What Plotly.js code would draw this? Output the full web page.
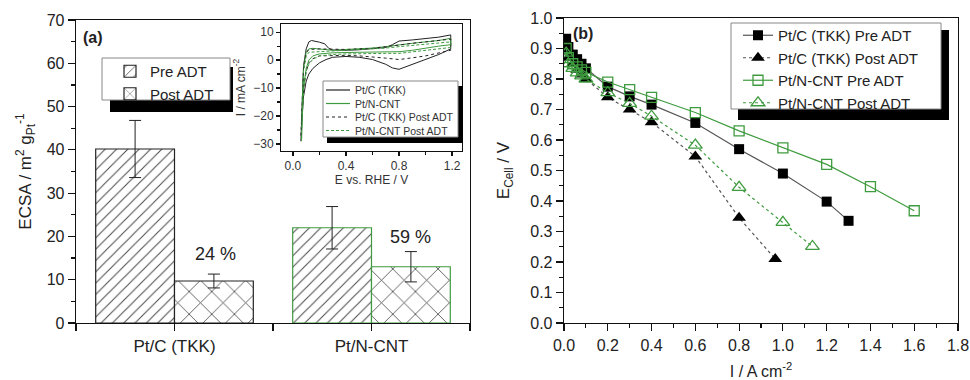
<!DOCTYPE html>
<html><head><meta charset="utf-8">
<script src="https://cdn.plot.ly/plotly-3.0.1.min.js"></script>
<style>html,body{margin:0;padding:0;background:#fff}#chart{width:970px;height:380px}</style>
</head><body><div id="chart"></div>
<script>
// ---------- Panel (a): ECSA bars ----------
const categories = ['Pt/C (TKK)', 'Pt/N-CNT'];
const catPos = [0, 1];
const ecsaPre = [40.2, 22.0];
const ecsaPreErr = [6.6, 4.9];
const ecsaPost = [9.7, 13.0];
const ecsaPostErr = [1.6, 3.5];
const retentionText = ['24 %', '59 %'];
const retentionX = [0.21, 1.2];
const retentionY = [16.0, 19.9];

// ---------- Inset: cyclic voltammograms ----------
const cvNames = ['Pt/C (TKK)', 'Pt/N-CNT', 'Pt/C (TKK) Post ADT', 'Pt/N-CNT Post ADT'];
const cvPtcE = [0.06, 0.065, 0.07, 0.08, 0.1, 0.12, 0.14, 0.17, 0.2, 0.24, 0.27, 0.3, 0.4, 0.5, 0.6, 0.7, 0.75, 0.8, 0.9, 1.0, 1.1, 1.19, 1.19, 1.1, 1.0, 0.9, 0.8, 0.75, 0.7, 0.6, 0.5, 0.4, 0.3, 0.25, 0.2, 0.15, 0.12, 0.1, 0.08, 0.07, 0.065];
const cvPtcI = [-29, -20, -10, -2, 4, 6.5, 7.0, 6.8, 6.4, 5.8, 4.2, 3.6, 3.5, 3.7, 4.0, 4.5, 5.5, 6.8, 7.2, 7.6, 8.2, 9.0, 4.0, 2.0, 0.2, -1.5, -3.3, -2.8, -1.5, 0.2, 1.0, 1.3, 1.0, 0.2, -1.0, -3.0, -5.0, -7.5, -13, -20, -25];
const cvPncE = [0.065, 0.07, 0.08, 0.1, 0.12, 0.15, 0.2, 0.3, 0.4, 0.5, 0.6, 0.7, 0.8, 0.9, 1.0, 1.1, 1.19, 1.19, 1.1, 1.0, 0.9, 0.8, 0.7, 0.6, 0.5, 0.4, 0.3, 0.2, 0.15, 0.12, 0.1, 0.08, 0.07];
const cvPncI = [-29, -15, -3, 3, 4.0, 4.2, 4.0, 3.5, 3.8, 4.0, 4.3, 4.8, 5.5, 6.0, 6.5, 7.0, 7.8, 5.5, 5.0, 4.2, 3.5, 3.0, 3.0, 3.0, 2.8, 2.7, 2.6, 2.2, 1.5, 0, -3, -10, -20];
const cvPtcPostE = [0.06, 0.07, 0.08, 0.1, 0.12, 0.2, 0.3, 0.4, 0.5, 0.6, 0.7, 0.8, 0.9, 1.0, 1.1, 1.19, 1.19, 1.1, 1.0, 0.9, 0.8, 0.7, 0.6, 0.5, 0.4, 0.3, 0.2, 0.15, 0.12, 0.1, 0.08, 0.07];
const cvPtcPostI = [-27, -12, -3, 2.5, 3.8, 4.0, 3.8, 3.8, 4.0, 4.2, 4.8, 5.5, 6.0, 6.5, 7.0, 7.5, 3.5, 2.5, 1.5, 0.8, 0.2, 0.7, 1.2, 1.5, 1.7, 1.7, 1.5, 0.5, -1, -4, -10, -18];
const cvPncPostE = [0.065, 0.07, 0.08, 0.1, 0.12, 0.2, 0.3, 0.4, 0.5, 0.6, 0.7, 0.8, 0.9, 1.0, 1.1, 1.19, 1.19, 1.1, 1.0, 0.9, 0.8, 0.7, 0.6, 0.5, 0.4, 0.3, 0.2, 0.15, 0.12, 0.1, 0.08, 0.07];
const cvPncPostI = [-28, -14, -4, 1.5, 2.8, 3.0, 3.2, 3.4, 3.6, 3.9, 4.3, 4.8, 5.2, 5.6, 6.0, 6.5, 4.5, 4.0, 3.4, 2.8, 2.4, 2.4, 2.4, 2.3, 2.2, 2.0, 1.5, 0.3, -1.5, -4, -10, -20];

// ---------- Panel (b): polarization curves ----------
const ptcPreI = [0.01, 0.02, 0.04, 0.06, 0.08, 0.1, 0.2, 0.3, 0.4, 0.6, 0.8, 1.0, 1.2, 1.3];
const ptcPreE = [0.932, 0.905, 0.88, 0.865, 0.85, 0.835, 0.775, 0.743, 0.716, 0.656, 0.57, 0.49, 0.398, 0.335];
const ptcPostI = [0.01, 0.02, 0.04, 0.06, 0.08, 0.1, 0.2, 0.3, 0.4, 0.6, 0.8, 0.965];
const ptcPostE = [0.89, 0.87, 0.85, 0.83, 0.815, 0.80, 0.74, 0.70, 0.658, 0.546, 0.345, 0.21];
const pncPreI = [0.01, 0.02, 0.04, 0.06, 0.08, 0.1, 0.2, 0.3, 0.4, 0.6, 0.8, 1.0, 1.2, 1.4, 1.6];
const pncPreE = [0.90, 0.87, 0.85, 0.84, 0.83, 0.822, 0.79, 0.765, 0.74, 0.69, 0.63, 0.574, 0.52, 0.447, 0.368];
const pncPostI = [0.01, 0.02, 0.04, 0.06, 0.08, 0.1, 0.2, 0.3, 0.4, 0.6, 0.8, 1.0, 1.135];
const pncPostE = [0.885, 0.85, 0.835, 0.82, 0.81, 0.80, 0.755, 0.72, 0.678, 0.583, 0.445, 0.33, 0.251];

// ---------- styling ----------
const FONT = 'Liberation Sans, Arial, sans-serif';
const GREEN = '#3f9b3f';
const W = 970, H = 380, ML = 76, MR = 12, MT = 18, MB = 57;
const PW = W - ML - MR, PH = H - MT - MB;
const px = v => (v - ML) / PW;
const py = v => 1 - (v - MT) / PH;
const cvColors = ['#222', GREEN, '#222', GREEN];
const cvDash = ['solid', 'solid', 'dot', '3px,2px'];

const traces = [
  {type: 'bar', name: 'Pre ADT', x: catPos, y: ecsaPre, xaxis: 'x', yaxis: 'y', legend: 'legend',
   marker: {color: 'white', line: {color: ['#222', GREEN], width: 1.2},
            pattern: {shape: '/', size: 8, solidity: 0.12, fgcolor: '#444', bgcolor: 'white'}},
   error_y: {type: 'data', array: ecsaPreErr, color: '#222', thickness: 1, width: 6}},
  {type: 'bar', name: 'Post ADT', x: catPos, y: ecsaPost, xaxis: 'x', yaxis: 'y', legend: 'legend',
   marker: {color: 'white', line: {color: ['#222', GREEN], width: 1.2},
            pattern: {shape: 'x', size: 16, solidity: 0.1, fgcolor: '#444', bgcolor: 'white'}},
   error_y: {type: 'data', array: ecsaPostErr, color: '#222', thickness: 1, width: 6}},

  {type: 'scatter', mode: 'lines', name: cvNames[0], x: cvPtcE, y: cvPtcI, xaxis: 'x3', yaxis: 'y3', showlegend: false,
   line: {color: cvColors[0], width: 1, dash: cvDash[0]}},
  {type: 'scatter', mode: 'lines', name: cvNames[1], x: cvPncE, y: cvPncI, xaxis: 'x3', yaxis: 'y3', showlegend: false,
   line: {color: cvColors[1], width: 1, dash: cvDash[1]}},
  {type: 'scatter', mode: 'lines', name: cvNames[2], x: cvPtcPostE, y: cvPtcPostI, xaxis: 'x3', yaxis: 'y3', showlegend: false,
   line: {color: cvColors[2], width: 1, dash: cvDash[2]}},
  {type: 'scatter', mode: 'lines', name: cvNames[3], x: cvPncPostE, y: cvPncPostI, xaxis: 'x3', yaxis: 'y3', showlegend: false,
   line: {color: cvColors[3], width: 1, dash: cvDash[3]}},

  {type: 'scatter', mode: 'lines+markers', name: 'Pt/C (TKK) Pre ADT', x: ptcPreI, y: ptcPreE, xaxis: 'x2', yaxis: 'y2', legend: 'legend2',
   line: {color: '#555', width: 1.2}, marker: {symbol: 'square', size: 10, color: '#000'}},
  {type: 'scatter', mode: 'lines+markers', name: 'Pt/C (TKK) Post ADT', x: ptcPostI, y: ptcPostE, xaxis: 'x2', yaxis: 'y2', legend: 'legend2',
   line: {color: '#555', width: 1.2, dash: '3px,3px'}, marker: {symbol: 'triangle-up', size: 12, color: '#000'}},
  {type: 'scatter', mode: 'lines+markers', name: 'Pt/N-CNT Pre ADT', x: pncPreI, y: pncPreE, xaxis: 'x2', yaxis: 'y2', legend: 'legend2',
   line: {color: GREEN, width: 1.2}, marker: {symbol: 'square-open', size: 10, color: GREEN, line: {width: 1.3}}},
  {type: 'scatter', mode: 'lines+markers', name: 'Pt/N-CNT Post ADT', x: pncPostI, y: pncPostE, xaxis: 'x2', yaxis: 'y2', legend: 'legend2',
   line: {color: GREEN, width: 1.2, dash: '3px,3px'}, marker: {symbol: 'triangle-up-open', size: 12, color: GREEN, line: {width: 1.3}}}
];

const axBase = {showline: true, mirror: true, linecolor: '#111', linewidth: 1.3, ticks: 'outside',
  ticklen: 7, tickwidth: 1.2, tickcolor: '#111', showgrid: false, zeroline: false, automargin: false,
  tickfont: {family: FONT, size: 16, color: '#222'}};

const shapes = [
  {type: 'rect', xref: 'paper', yref: 'paper', x0: px(110), x1: px(233), y0: py(112), y1: py(67), fillcolor: '#000', line: {width: 0}},
  {type: 'rect', xref: 'paper', yref: 'paper', x0: px(102), x1: px(230), y0: py(100), y1: py(58), fillcolor: '#fff', line: {color: '#888', width: 1}},
  {type: 'rect', xref: 'paper', yref: 'paper', x0: px(738), x1: px(949), y0: py(120), y1: py(30), fillcolor: '#000', line: {width: 0}},
  {type: 'rect', xref: 'paper', yref: 'paper', x0: px(731), x1: px(941), y0: py(109), y1: py(23), fillcolor: '#fff', line: {color: '#888', width: 1}},
  {type: 'rect', xref: 'paper', yref: 'paper', x0: px(327), x1: px(463), y0: py(143), y1: py(86), fillcolor: '#000', line: {width: 0}},
  {type: 'rect', xref: 'paper', yref: 'paper', x0: px(323), x1: px(458), y0: py(137), y1: py(81), fillcolor: '#fff', line: {color: '#888', width: 1}}
];
const annotations = [
  {text: '<b>(a)</b>', xref: 'paper', yref: 'paper', x: px(93), y: py(37), xanchor: 'center', yanchor: 'middle', showarrow: false, font: {family: FONT, size: 16, color: '#222'}},
  {text: '<b>(b)</b>', xref: 'paper', yref: 'paper', x: px(583), y: py(33), xanchor: 'center', yanchor: 'middle', showarrow: false, font: {family: FONT, size: 16, color: '#222'}},
  {text: retentionText[0], xref: 'x', yref: 'y', x: retentionX[0], y: retentionY[0], xanchor: 'center', yanchor: 'middle', showarrow: false, font: {family: FONT, size: 18, color: '#222'}},
  {text: retentionText[1], xref: 'x', yref: 'y', x: retentionX[1], y: retentionY[1], xanchor: 'center', yanchor: 'middle', showarrow: false, font: {family: FONT, size: 18, color: '#222'}}
];
// inset legend (compact, drawn as legend decoration)
const insetRows = [90, 103.5, 117, 130.5];
cvNames.forEach((nm, i) => {
  shapes.push({type: 'line', xref: 'paper', yref: 'paper', x0: px(326), x1: px(350), y0: py(insetRows[i]), y1: py(insetRows[i]),
    line: {color: cvColors[i], width: 1.2, dash: cvDash[i]}});
  annotations.push({text: nm, xref: 'paper', yref: 'paper', x: px(353), y: py(insetRows[i]), xanchor: 'left', yanchor: 'middle',
    showarrow: false, font: {family: FONT, size: 10.5, color: '#333'}});
});

const layout = {
  width: W, height: H, margin: {l: ML, r: MR, t: MT, b: MB},
  paper_bgcolor: 'white', plot_bgcolor: 'rgba(0,0,0,0)',
  font: {family: FONT, color: '#222'},
  barmode: 'group', bargap: 0.2, bargroupgap: 0,
  xaxis: Object.assign({}, axBase, {domain: [0, px(470)], range: [-0.5, 1.5], tickmode: 'array',
    tickvals: catPos, ticktext: categories, tickfont: {family: FONT, size: 17, color: '#222'},
    minor: {tickmode: 'array', tickvals: [-0.5, 0.5, 1.5], ticks: 'outside', ticklen: 7, tickcolor: '#111', tickwidth: 1.2}}),
  yaxis: Object.assign({}, axBase, {domain: [0, py(20)], range: [0, 70], dtick: 10,
    minor: {dtick: 5, ticks: 'outside', ticklen: 4, tickcolor: '#111'},
    title: {text: 'ECSA / m<sup>2</sup> g<sub>Pt</sub><sup>-1</sup>', font: {family: FONT, size: 17, color: '#222'}, standoff: 10}}),
  xaxis2: Object.assign({}, axBase, {domain: [px(564), 1], range: [0, 1.8], dtick: 0.2, tickformat: '.1f', anchor: 'y2',
    minor: {dtick: 0.1, ticks: 'outside', ticklen: 4, tickcolor: '#111'},
    title: {text: 'I / A cm<sup>-2</sup>', font: {family: FONT, size: 16, color: '#222'}, standoff: 14}}),
  yaxis2: Object.assign({}, axBase, {domain: [0, 1], range: [0, 1.0], dtick: 0.1, tickformat: '.1f', anchor: 'x2',
    minor: {dtick: 0.05, ticks: 'outside', ticklen: 4, tickcolor: '#111'},
    title: {text: 'E<sub>Cell</sub> / V', font: {family: FONT, size: 17, color: '#222'}, standoff: 16}}),
  xaxis3: Object.assign({}, axBase, {domain: [px(281), px(462)], range: [-0.09, 1.275], tickvals: [0, 0.4, 0.8, 1.2], tickformat: '.1f', anchor: 'y3',
    ticklen: 4, tickfont: {family: FONT, size: 12, color: '#333'}, linewidth: 1,
    minor: {tickvals: [0.2, 0.6, 1.0], tickmode: 'array', ticks: 'outside', ticklen: 3, tickcolor: '#111'},
    title: {text: 'E vs. RHE / V', font: {family: FONT, size: 12, color: '#333'}, standoff: 3}}),
  yaxis3: Object.assign({}, axBase, {domain: [py(151), py(24)], range: [-32.5, 12.9], dtick: 10, anchor: 'x3',
    ticklen: 4, tickfont: {family: FONT, size: 12, color: '#333'}, linewidth: 1,
    minor: {dtick: 5, ticks: 'outside', ticklen: 3, tickcolor: '#111'},
    title: {text: 'I / mA cm<sup>-2</sup>', font: {family: FONT, size: 12, color: '#333'}, standoff: 5}}),
  legend: {x: px(110), y: py(55), xanchor: 'left', yanchor: 'top', bgcolor: 'rgba(0,0,0,0)', borderwidth: 0,
    font: {family: FONT, size: 15, color: '#222'}, tracegroupgap: 0, itemwidth: 30},
  legend2: {x: px(738), y: py(19), xanchor: 'left', yanchor: 'top', bgcolor: 'rgba(0,0,0,0)', borderwidth: 0,
    font: {family: FONT, size: 15, color: '#222'}, tracegroupgap: 0, itemwidth: 30},
  shapes: shapes,
  annotations: annotations,
  showlegend: true
};

Plotly.newPlot('chart', traces, layout, {displayModeBar: false, staticPlot: true});
</script>
</body></html>
